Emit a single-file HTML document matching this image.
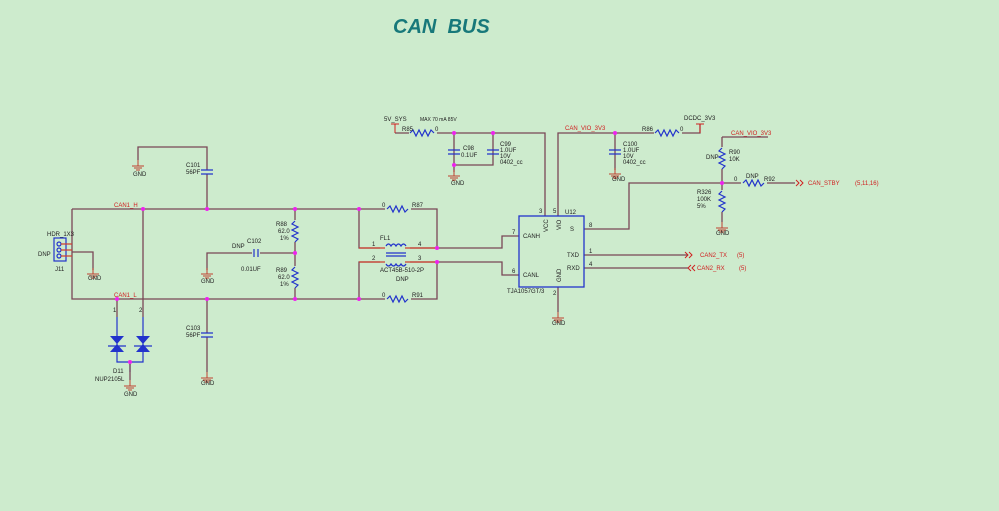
<!DOCTYPE html>
<html><head><meta charset="utf-8"><style>
html,body{margin:0;padding:0;background:#cdebcd;}
svg{display:block}
text{font-family:"Liberation Sans",sans-serif;font-size:6px;fill:#222}
.r{fill:#d02020}
.w{stroke:#7a4656;stroke-width:1.3;fill:none}
.b{stroke:#2233cc;stroke-width:1.2;fill:none}
.p{stroke:#d04030;stroke-width:1.2;fill:none}
.j{fill:#ee22ee}
</style></head><body>
<svg width="999" height="511" viewBox="0 0 999 511">
<rect width="999" height="511" fill="#cdebcd"/>
<text x="393" y="33" style="font-size:20px;font-weight:bold;font-style:italic;fill:#17787a">CAN&#160; BUS</text>
<defs>
<g id="gnd"><path d="M0 0v6M-6 6h12M-4 8h8M-2 10h4" stroke="#c04030" stroke-width="1" fill="none"/></g>
</defs>
<path class="w" d="M72 209H437V248M72 209V299H437V262M359 209V248H502V236H519M359 299V262H502V275H519"/>
<path class="w" d="M143 209V317M117 299V317M207 209V147H138V160M207 299V372M295 209V299M207 270V253H295M93 270V252H72"/>
<g fill="#cdebcd"><rect x="385" y="205" width="26" height="8"/><rect x="385" y="295" width="26" height="8"/><rect x="291" y="220" width="8" height="22"/><rect x="291" y="266" width="8" height="22"/><rect x="380" y="244" width="30" height="22"/><rect x="252" y="249" width="8" height="8"/><rect x="200" y="170" width="14" height="4"/><rect x="200" y="333" width="14" height="4"/></g>
<path class="b" d="M387 209l3-3 3 6 3-6 3 6 3-6 3 6 3-3M387 299l3-3 3 6 3-6 3 6 3-6 3 6 3-3M295 221l-3 3 6 3-6 3 6 3-6 3 6 3-3 3M295 267l-3 3 6 3-6 3 6 3-6 3 6 3-3 3"/>
<path class="p" d="M359 248h26M405 248h32M359 262h26M405 262h32"/>
<path class="b" d="M386 246q2.5-4 5 0q2.5-4 5 0q2.5-4 5 0q2.5-4 5 0M386 264q2.5 4 5 0q2.5 4 5 0q2.5 4 5 0q2.5 4 5 0M386 253h20M386 256h20"/>
<path class="b" d="M254 249v8M258 249v8"/>
<path class="b" d="M201 170h12M201 174h12M201 333h12M201 337h12"/>
<rect x="54" y="238" width="12" height="23" class="b"/>
<circle cx="59" cy="244" r="2" class="b"/><circle cx="59" cy="250" r="2" class="b"/><circle cx="59" cy="256" r="2" class="b"/>
<path class="p" d="M61 244h11M61 250h11M61 256h11"/>
<path class="b" d="M117 317V362H143V317M130 362V372"/>
<path d="M110 336h14l-7 8zM110 352h14l-7-8zM136 336h14l-7 8zM136 352h14l-7-8z" fill="#2233cc"/>
<path class="b" d="M108 346h18M134 346h18"/>
<path class="w" d="M130 362v18"/>
<use href="#gnd" x="138" y="160"/><use href="#gnd" x="93" y="268"/><use href="#gnd" x="207" y="268"/><use href="#gnd" x="207" y="372"/><use href="#gnd" x="130" y="380"/>
<g class="j"><circle cx="143" cy="209" r="2"/><circle cx="207" cy="209" r="2"/><circle cx="295" cy="209" r="2"/><circle cx="359" cy="209" r="2"/><circle cx="437" cy="248" r="2"/><circle cx="117" cy="299" r="2"/><circle cx="207" cy="299" r="2"/><circle cx="295" cy="299" r="2"/><circle cx="359" cy="299" r="2"/><circle cx="437" cy="262" r="2"/><circle cx="295" cy="253" r="2"/><circle cx="130" cy="362" r="2"/></g>
<text x="114" y="207" class="r">CAN1_H</text><text x="114" y="297" class="r">CAN1_L</text>
<text x="186" y="167">C101</text><text x="186" y="174">56PF</text>
<text x="186" y="330">C103</text><text x="186" y="337">56PF</text>
<text x="133" y="176">GND</text><text x="88" y="280">GND</text><text x="201" y="283">GND</text><text x="201" y="385">GND</text><text x="124" y="396">GND</text>
<text x="47" y="236">HDR_1X3</text><text x="38" y="256">DNP</text><text x="55" y="271">J11</text>
<text x="276" y="226">R88</text><text x="278" y="233">62.0</text><text x="280" y="240">1%</text>
<text x="276" y="272">R89</text><text x="278" y="279">62.0</text><text x="280" y="286">1%</text>
<text x="247" y="243">C102</text><text x="232" y="248">DNP</text><text x="241" y="271">0.01UF</text>
<text x="382" y="207">0</text><text x="412" y="207">R87</text><text x="382" y="297">0</text><text x="412" y="297">R91</text>
<text x="380" y="240">FL1</text><text x="372" y="246">1</text><text x="418" y="246">4</text><text x="372" y="260">2</text><text x="418" y="260">3</text>
<text x="380" y="272">ACT45B-510-2P</text><text x="396" y="281">DNP</text>
<text x="113" y="312">1</text><text x="139" y="312">2</text>
<text x="113" y="373">D11</text><text x="95" y="381">NUP2105L</text>
<path class="w" d="M395 133H545V216M454 133V165H493V133M454 165V172M558 216V133H700V124M615 133V170M558 287V312M722 137H768M722 137V222M584 229H629V183H795M584 255H688M584 268H688"/>
<g fill="#cdebcd"><rect x="409" y="129" width="28" height="8"/><rect x="654" y="129" width="28" height="8"/><rect x="718" y="147" width="8" height="22"/><rect x="718" y="190" width="8" height="22"/><rect x="741" y="179" width="26" height="8"/></g>
<path class="b" d="M410 133l3-3 3 6 3-6 3 6 3-6 3 6 3-6 3 3M655 133l3-3 3 6 3-6 3 6 3-6 3 6 3-6 3 3M743 183l3-3 3 6 3-6 3 6 3-6 3 6 3-3M722 148l-3 3 6 3-6 3 6 3-6 3 6 3-3 3M722 191l-3 3 6 3-6 3 6 3-6 3 6 3-3 3"/>
<path class="b" d="M448 150h12M448 154h12M487 150h12M487 154h12M609 150h12M609 154h12"/>
<path d="M395 124v9M700 124v9" stroke="#d02020" stroke-width="1"/>
<path d="M391 124h8M696 124h8" stroke="#d02020" stroke-width="1"/>
<use href="#gnd" x="454" y="170"/><use href="#gnd" x="615" y="168"/><use href="#gnd" x="722" y="222"/><use href="#gnd" x="558" y="312"/>
<rect x="519" y="216" width="65" height="71" fill="none" stroke="#2233cc" stroke-width="1.3"/>
<g class="j"><circle cx="454" cy="133" r="2"/><circle cx="493" cy="133" r="2"/><circle cx="454" cy="165" r="2"/><circle cx="615" cy="133" r="2"/><circle cx="722" cy="183" r="2"/></g>
<path d="M688 255l-3-3 3 3-3 3M692 255l-3-3 3 3-3 3M688 268l3-3-3 3 3 3M692 268l3-3-3 3 3 3M799 183l-3-3 3 3-3 3M803 183l-3-3 3 3-3 3" stroke="#d02020" fill="none"/>
<text x="384" y="121">5V_SYS</text><text x="420" y="121" style="font-size:5px">MAX 70 mA 85V</text>
<text x="402" y="131">R85</text><text x="435" y="131">0</text>
<text x="463" y="150">C98</text><text x="461" y="157">0.1UF</text>
<text x="500" y="146">C99</text><text x="500" y="152">1.0UF</text><text x="500" y="158">10V</text><text x="500" y="164">0402_cc</text>
<text x="451" y="185">GND</text><text x="612" y="181">GND</text><text x="716" y="235">GND</text><text x="552" y="325">GND</text>
<text x="565" y="130" class="r">CAN_VIO_3V3</text><text x="642" y="131">R86</text><text x="680" y="131">0</text><text x="684" y="120">DCDC_3V3</text>
<text x="623" y="146">C100</text><text x="623" y="152">1.0UF</text><text x="623" y="158">10V</text><text x="623" y="164">0402_cc</text>
<text x="731" y="135" class="r">CAN_VIO_3V3</text>
<text x="706" y="159">DNP</text><text x="729" y="154">R90</text><text x="729" y="161">10K</text>
<text x="697" y="194">R326</text><text x="697" y="201">100K</text><text x="697" y="208">5%</text>
<text x="734" y="181">0</text><text x="746" y="178">DNP</text><text x="764" y="181">R92</text>
<text x="808" y="185" class="r">CAN_STBY</text><text x="855" y="185" class="r">(5,11,16)</text>
<text x="700" y="257" class="r">CAN2_TX</text><text x="737" y="257" class="r">(5)</text>
<text x="697" y="270" class="r">CAN2_RX</text><text x="739" y="270" class="r">(5)</text>
<text x="565" y="214">U12</text><text x="512" y="234">7</text><text x="512" y="273">6</text>
<text x="523" y="238">CANH</text><text x="523" y="277">CANL</text><text x="570" y="231">S</text><text x="567" y="257">TXD</text><text x="567" y="270">RXD</text>
<text x="589" y="227">8</text><text x="589" y="253">1</text><text x="589" y="266">4</text>
<text x="539" y="213">3</text><text x="553" y="213">5</text><text x="553" y="295">2</text>
<text x="507" y="293">TJA1057GT/3</text>
<text transform="translate(548 232) rotate(-90)">VCC</text><text transform="translate(561 230) rotate(-90)">VIO</text><text transform="translate(561 282) rotate(-90)">GND</text>
</svg>
</body></html>
